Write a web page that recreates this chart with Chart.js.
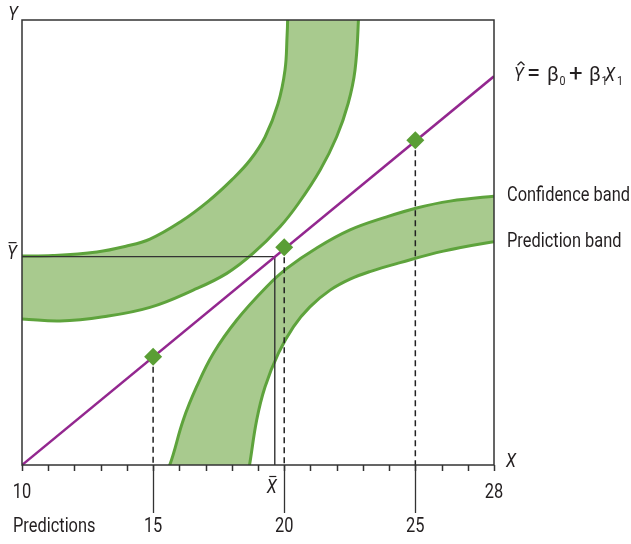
<!DOCTYPE html>
<html>
<head>
<meta charset="utf-8">
<script src="https://cdn.jsdelivr.net/npm/chart.js@4.4.0/dist/chart.umd.min.js"></script>
<style>
  html, body { margin: 0; padding: 0; background: #fff; }
  #wrap { width: 631px; height: 544px; }
</style>
</head>
<body>
<div id="wrap"><canvas id="chart" width="631" height="544"></canvas></div>
<script>
// axis ranges and the labelled end ticks
const xRange = [10, 28];
const yRange = [0, 17];
const xEdgeTicks = [10, 28];

// fitted line and the three predictions on it
const fitX = [10, 28];
const fitY = [0, 14.85];
const predictionX = [15, 20, 25];
const predictionY = [4.14, 8.32, 12.41];
const meanX = 19.64;
const meanY = 7.96;

// upper band: inner (upper-left) edge and outer (lower-right) edge
const upperInnerX = [9.5, 10, 11.18, 12.86, 13.93, 14.88, 16.09, 17.11, 18.0, 18.7, 19.27, 19.76, 20.03, 20.11, 20.13, 20.14, 23.2];
const upperInnerY = [7.98, 7.98, 8.0, 8.14, 8.35, 8.63, 9.32, 10.08, 10.89, 11.65, 12.53, 13.79, 15.09, 16.42, 17.0, 18.2, 18.2];
const upperOuterX = [9.5, 10, 11.45, 13.1, 14.88, 16.53, 17.81, 18.82, 19.84, 20.54, 21.37, 22.0, 22.44, 22.7, 22.83, 22.85, 23.2];
const upperOuterY = [5.58, 5.58, 5.5, 5.66, 6.02, 6.68, 7.32, 8.09, 9.1, 9.99, 11.27, 12.54, 13.82, 15.09, 17.0, 18.2, 18.2];

// lower band: outer (upper-left) edge = confidence, inner (lower-right) edge = prediction
const lowerOuterX = [15.3, 15.62, 16.15, 16.66, 17.3, 18.19, 19.33, 20.1, 21.24, 22.51, 23.91, 25.05, 26.32, 28.0, 28.5];
const lowerOuterY = [-0.6, -0.04, 1.72, 2.99, 4.27, 5.54, 6.81, 7.51, 8.29, 8.98, 9.48, 9.82, 10.08, 10.27, 10.3];
const lowerInnerX = [15.3, 18.55, 18.67, 18.95, 19.27, 19.78, 20.35, 20.98, 21.75, 22.51, 23.27, 24.42, 26.07, 28.0, 28.5];
const lowerInnerY = [-0.6, -0.6, -0.04, 1.72, 2.99, 4.27, 5.28, 6.04, 6.68, 7.1, 7.39, 7.73, 8.17, 8.53, 8.58];

const bandLabels = ['Confidence band', 'Prediction band'];
const FONT = 'Roboto, "Noto Sans", sans-serif';
const NARROW = 0.82;
const INK = '#231f20';
const GREEN = '#5ea33c';
const BAND_FILL = '#a8ca8e';
const PURPLE = '#93278f';

const pts = (xs, ys) => xs.map((v, i) => ({ x: v, y: ys[i] }));

function bandEdge(xs, ys, fill) {
  return {
    data: pts(xs, ys),
    showLine: true,
    borderColor: GREEN,
    borderWidth: 3,
    backgroundColor: BAND_FILL,
    fill: fill,
    pointRadius: 0,
    tension: 0.4,
    capBezierPoints: false,
    // the filled edge is drawn first so the other edge stays on top of the fill
    order: fill === false ? 10 : 11
  };
}

const dropLines = predictionX.map((v, i) => ({
  data: [{ x: v, y: predictionY[i] }, { x: v, y: yRange[0] }],
  showLine: true,
  borderColor: '#222',
  borderWidth: 1.5,
  borderDash: [6, 4],
  pointRadius: 0,
  order: 4
}));

// condensed-looking text: normal face squeezed horizontally
function label(ctx, str, x, y, opts = {}) {
  ctx.save();
  ctx.font = (opts.italic ? 'italic ' : '') + (opts.size || 20) + 'px ' + FONT;
  ctx.textAlign = opts.align || 'left';
  ctx.textBaseline = opts.baseline || 'middle';
  ctx.fillStyle = INK;
  ctx.translate(x, y);
  ctx.scale(opts.scaleX || NARROW, 1);
  ctx.fillText(str, 0, 0);
  ctx.restore();
}

// frame, ticks and all the text around the plot
const framePlugin = {
  id: 'frame',
  afterDatasetsDraw(chart) {
    const { ctx, chartArea: a, scales: { x, y } } = chart;
    const line = (x1, y1, x2, y2) => { ctx.beginPath(); ctx.moveTo(x1, y1); ctx.lineTo(x2, y2); ctx.stroke(); };
    ctx.save();
    ctx.strokeStyle = '#333';
    ctx.lineWidth = 1.5;
    ctx.strokeRect(a.left, a.top, a.right - a.left, a.bottom - a.top);
    for (let v = xRange[0]; v <= xRange[1]; v++) {
      const px = Math.round(x.getPixelForValue(v)) + 0.5;
      line(px, a.bottom, px, a.bottom + 6);
    }
    ctx.lineWidth = 1.3;
    predictionX.forEach(v => {
      const px = Math.round(x.getPixelForValue(v)) + 0.5;
      line(px, a.bottom, px, a.bottom + 48);
    });

    xEdgeTicks.forEach(v => label(ctx, String(v), x.getPixelForValue(v), a.bottom + 28, { align: 'center' }));
    predictionX.forEach(v => label(ctx, String(v), x.getPixelForValue(v), a.bottom + 62, { align: 'center' }));
    label(ctx, 'Predictions', 13, a.bottom + 62);

    // band labels at the right end of the lower band
    label(ctx, bandLabels[0], a.right + 13, y.getPixelForValue(lowerOuterY[lowerOuterY.length - 2]));
    label(ctx, bandLabels[1], a.right + 13, y.getPixelForValue(lowerInnerY[lowerInnerY.length - 2]));

    // axis names
    label(ctx, 'Y', 13, 15, { italic: true, align: 'center' });
    label(ctx, 'X', a.right + 17, a.bottom - 3, { italic: true, align: 'center' });

    // means with their bars
    const mx = x.getPixelForValue(meanX);
    const my = y.getPixelForValue(meanY);
    label(ctx, 'X', mx - 3, a.bottom + 23, { italic: true, align: 'center' });
    label(ctx, 'Y', 12, my - 3, { italic: true, align: 'center' });
    ctx.lineWidth = 1.2;
    ctx.strokeStyle = INK;
    line(mx - 5.5, a.bottom + 11.5, mx + 1.5, a.bottom + 11.5);
    line(8.5, my - 14, 16.5, my - 14);

    // regression equation
    const base = y.getPixelForValue(fitY[1]) + 5;
    const eq = { baseline: 'alphabetic' };
    label(ctx, 'Y', 514, base, { ...eq, italic: true });
    line(517.5, base - 16, 521, base - 19.5);
    line(521, base - 19.5, 524.5, base - 16);
    label(ctx, '=', 527, base, { ...eq, size: 24, scaleX: 1 });
    label(ctx, '\u03b2', 547, base, { ...eq, size: 21, scaleX: 0.95 });
    label(ctx, '0', 559.5, base + 4, { ...eq, size: 13 });
    label(ctx, '+', 569, base, { ...eq, size: 24, scaleX: 1 });
    label(ctx, '\u03b2', 589, base, { ...eq, size: 21, scaleX: 0.95 });
    label(ctx, '1', 601.5, base + 4, { ...eq, size: 13 });
    label(ctx, 'X', 605, base, { ...eq, italic: true });
    label(ctx, '1', 617, base + 4, { ...eq, size: 13 });
    ctx.restore();
  }
};

new Chart(document.getElementById('chart'), {
  type: 'scatter',
  data: {
    datasets: [
      bandEdge(upperOuterX, upperOuterY, 1),
      bandEdge(upperInnerX, upperInnerY, false),
      bandEdge(lowerOuterX, lowerOuterY, 3),
      bandEdge(lowerInnerX, lowerInnerY, false),
      {
        // mean lines
        data: [{ x: xRange[0], y: meanY }, { x: meanX, y: meanY }, { x: meanX, y: yRange[0] }],
        showLine: true,
        borderColor: '#333',
        borderWidth: 1.4,
        pointRadius: 0,
        order: 3
      },
      ...dropLines,
      {
        data: pts(fitX, fitY),
        showLine: true,
        borderColor: PURPLE,
        borderWidth: 2.5,
        pointRadius: 0,
        order: 1
      },
      {
        data: pts(predictionX, predictionY),
        showLine: false,
        pointStyle: 'rectRot',
        pointRadius: 9,
        pointHoverRadius: 9,
        pointBackgroundColor: '#5a9e35',
        pointBorderWidth: 0,
        order: 0
      }
    ]
  },
  options: {
    responsive: false,
    animation: false,
    events: [],
    layout: { padding: { left: 22, top: 20, right: 137, bottom: 79 } },
    scales: {
      x: { type: 'linear', min: xRange[0], max: xRange[1], display: false },
      y: { type: 'linear', min: yRange[0], max: yRange[1], display: false }
    },
    plugins: {
      legend: { display: false },
      tooltip: { enabled: false }
    }
  },
  plugins: [framePlugin]
});
</script>
</body>
</html>
